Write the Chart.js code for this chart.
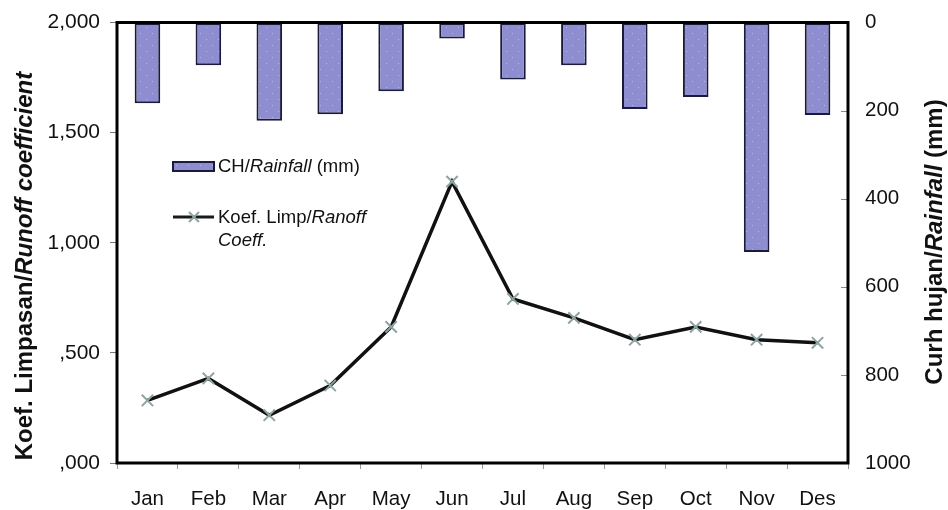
<!DOCTYPE html>
<html>
<head>
<meta charset="utf-8">
<script src="https://cdn.jsdelivr.net/npm/chart.js@4.4.1/dist/chart.umd.min.js"></script>
<style>
  html, body { margin: 0; padding: 0; background: #fff; }
  #wrap { width: 948px; height: 510px; }
</style>
</head>
<body>
<div id="wrap"><canvas id="chart" width="948" height="510"></canvas></div>
<script>
// data
const months = ['Jan', 'Feb', 'Mar', 'Apr', 'May', 'Jun', 'Jul', 'Aug', 'Sep', 'Oct', 'Nov', 'Des'];
const rainfall = [183, 97, 223, 208, 156, 36, 129, 97, 196, 169, 521, 210];     // mm, right axis
const runoffCoeff = [0.284, 0.384, 0.217, 0.352, 0.618, 1.278, 0.745, 0.659, 0.560, 0.618, 0.560, 0.546];
const leftTickValues = [0, 0.5, 1, 1.5, 2];
const leftTickLabels = [',000', ',500', '1,000', '1,500', '2,000'];
const rightTickValues = [0, 200, 400, 600, 800, 1000];
const rightTickLabels = ['0', '200', '400', '600', '800', '1000'];

const FONT = '"Liberation Sans", Arial, sans-serif';

// dotted fill like the printed bars
function makeBarPattern() {
    const c = document.createElement('canvas');
    c.width = 12; c.height = 12;
    const g = c.getContext('2d');
    g.fillStyle = '#8d8dd0';
    g.fillRect(0, 0, 12, 12);
    g.fillStyle = '#b9b9ea';
    g.fillRect(2, 3, 1, 1);
    g.fillRect(8, 9, 1, 1);
    return g.createPattern(c, 'repeat');
}
const barFill = makeBarPattern();

function labelFor(values, labels, v) {
    const i = values.findIndex(t => Math.abs(t - v) < 1e-6);
    return i >= 0 ? labels[i] : '';
}

// draws a run of text pieces with their own styles, centred on (x, y)
function drawParts(ctx, parts, x, y, angle) {
    ctx.save();
    ctx.translate(x, y);
    ctx.rotate(angle);
    let total = 0;
    parts.forEach(p => { ctx.font = p.font; total += ctx.measureText(p.text).width; });
    let cx = -total / 2;
    ctx.textBaseline = 'middle';
    ctx.textAlign = 'left';
    ctx.fillStyle = '#111';
    parts.forEach(p => {
        ctx.font = p.font;
        ctx.fillText(p.text, cx, 0);
        cx += ctx.measureText(p.text).width;
    });
    ctx.restore();
}

const framePlugin = {
    id: 'frame',
    afterDatasetsDraw(chart) {
        const ctx = chart.ctx;
        const a = chart.chartArea;
        ctx.save();
        // right axis ticks point inwards in the original
        const y2 = chart.scales.y2;
        ctx.strokeStyle = '#888';
        ctx.lineWidth = 1;
        ctx.beginPath();
        rightTickValues.forEach(v => {
            const py = Math.round(y2.getPixelForValue(v)) + 0.5;
            ctx.moveTo(a.right - 7, py); ctx.lineTo(a.right, py);
        });
        ctx.stroke();

        ctx.strokeStyle = '#000';
        ctx.lineWidth = 3;
        ctx.beginPath();
        ctx.moveTo(a.left, a.top); ctx.lineTo(a.right, a.top);
        ctx.moveTo(a.left, a.bottom); ctx.lineTo(a.right, a.bottom);
        ctx.moveTo(a.left, a.top - 1.5); ctx.lineTo(a.left, a.bottom + 1.5);
        ctx.moveTo(a.right, a.top - 1.5); ctx.lineTo(a.right, a.bottom + 1.5);
        ctx.stroke();
        ctx.restore();
    },
    afterDraw(chart) {
        const ctx = chart.ctx;
        const b = 'bold 24px ' + FONT;
        const bi = 'italic bold 24px ' + FONT;
        drawParts(ctx, [
            { text: 'Koef. Limpasan/', font: b },
            { text: 'Runoff coefficient', font: bi }
        ], 25, 266, -Math.PI / 2);
        drawParts(ctx, [
            { text: 'Curh hujan/', font: b },
            { text: 'Rainfall', font: bi },
            { text: ' (mm)', font: b }
        ], 935, 242, -Math.PI / 2);

        // legend inside the plot
        ctx.save();
        ctx.fillStyle = barFill;
        ctx.fillRect(173, 162, 41, 9);
        ctx.strokeStyle = '#1a1a3a';
        ctx.lineWidth = 2;
        ctx.strokeRect(173, 162, 41, 9);
        ctx.strokeStyle = '#1a1a1a';
        ctx.lineWidth = 3;
        ctx.beginPath();
        ctx.moveTo(173, 217); ctx.lineTo(214, 217);
        ctx.stroke();
        ctx.strokeStyle = '#8fa3a3';
        ctx.lineWidth = 2;
        ctx.beginPath();
        ctx.moveTo(189, 212); ctx.lineTo(199, 222);
        ctx.moveTo(199, 212); ctx.lineTo(189, 222);
        ctx.stroke();
        ctx.restore();

        const n = '18.5px ' + FONT;
        const it = 'italic 18.5px ' + FONT;
        const row = (parts, x, y) => {
            ctx.save();
            ctx.textBaseline = 'middle';
            ctx.fillStyle = '#111';
            let cx = x;
            parts.forEach(p => {
                ctx.font = p.font;
                ctx.fillText(p.text, cx, y);
                cx += ctx.measureText(p.text).width;
            });
            ctx.restore();
        };
        row([{ text: 'CH/', font: n }, { text: 'Rainfall', font: it }, { text: ' (mm)', font: n }], 218, 167);
        row([{ text: 'Koef. Limp/', font: n }, { text: 'Ranoff', font: it }], 218, 218);
        row([{ text: 'Coeff.', font: it }], 218, 241);
    }
};

const chart = new Chart(document.getElementById('chart'), {
    type: 'bar',
    data: {
        labels: months,
        datasets: [
            {
                type: 'line',
                label: 'Koef. Limp/Ranoff Coeff.',
                data: runoffCoeff,
                yAxisID: 'y',
                borderColor: '#111',
                borderWidth: 3.5,
                tension: 0,
                pointStyle: 'crossRot',
                pointRadius: 8,
                pointBorderColor: '#8fa3a3',
                pointBorderWidth: 2,
                order: 0
            },
            {
                type: 'bar',
                label: 'CH/Rainfall (mm)',
                data: rainfall,
                yAxisID: 'y2',
                backgroundColor: barFill,
                borderColor: '#1a1a3a',
                borderWidth: 2,
                borderSkipped: false,
                barPercentage: 0.42,
                categoryPercentage: 1,
                order: 1
            }
        ]
    },
    options: {
        responsive: false,
        animation: false,
        layout: { padding: { top: 18, left: 0, right: 0, bottom: 0 } },
        plugins: {
            legend: { display: false },
            tooltip: { enabled: false }
        },
        scales: {
            x: {
                offset: true,
                grid: { display: true, drawOnChartArea: false, offset: true, tickLength: 6, color: '#999', lineWidth: 1 },
                border: { display: false },
                ticks: { color: '#111', font: { family: FONT, size: 20.5 }, padding: 18 },
                afterFit: s => { s.height = 47; }
            },
            y: {
                position: 'left',
                min: 0,
                max: 2,
                grid: { display: true, drawOnChartArea: false, tickLength: 7, color: '#777' },
                border: { display: false },
                ticks: {
                    stepSize: 0.5,
                    color: '#111',
                    font: { family: FONT, size: 21 },
                    padding: 10,
                    callback: v => labelFor(leftTickValues, leftTickLabels, v)
                },
                afterFit: s => { s.width = 117; }
            },
            y2: {
                position: 'right',
                reverse: true,
                min: 0,
                max: 1000,
                grid: { display: true, drawOnChartArea: false, tickLength: 7, color: 'rgba(0,0,0,0)' },
                border: { display: false },
                ticks: {
                    stepSize: 200,
                    color: '#111',
                    font: { family: FONT, size: 20.5 },
                    padding: 10,
                    callback: v => labelFor(rightTickValues, rightTickLabels, v)
                },
                afterFit: s => { s.width = 100; }
            }
        }
    },
    plugins: [framePlugin]
});
</script>
</body>
</html>
